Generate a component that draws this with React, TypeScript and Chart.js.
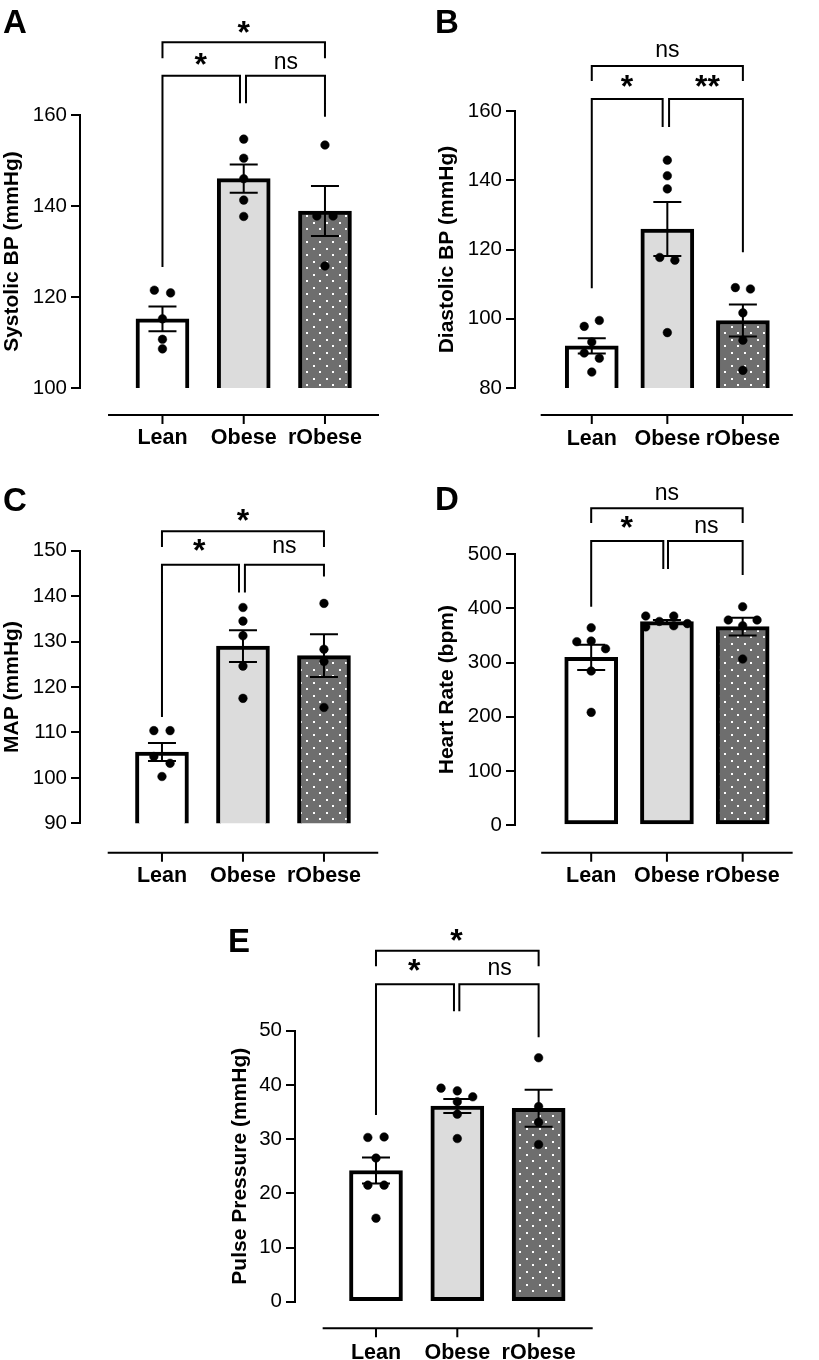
import React, { useEffect, useRef } from "react";
import { Chart, registerables } from "chart.js";
Chart.register(...registerables);

const FONT = "'Liberation Sans', Arial, Helvetica, sans-serif";

const groups = ["Lean", "Obese", "rObese"];

// ---- Panel A: Systolic BP ----
const sbpMean = [115.2, 146.0, 138.9];
const sbpSem = [2.7, 3.1, 5.5];
const sbpLean = [121.5, 120.9, 115.2, 110.7, 108.6];
const sbpObese = [154.7, 150.5, 146.0, 141.3, 137.7];
const sbpRObese = [153.4, 137.8, 137.8, 126.8];
const sbpSpread = [[-0.1, 0.1, 0, 0, 0], [0, 0, 0, 0, 0], [0, -0.1, 0.1, 0]];
const sbpBrackets = [[0, 2, 176.0, 172.5, 172.5], [0, 0.954, 168.6, 126.6, 162.6], [1.028, 2, 168.6, 162.6, 159.6]];
const sbpSig: [string, number, number][] = [["*", 1.0, 179.4], ["*", 0.47, 172.3], ["ns", 1.52, 171.5]];

// ---- Panel B: Diastolic BP ----
const dbpMean = [92.2, 125.9, 99.5];
const dbpSem = [2.2, 7.8, 4.6];
const dbpLean = [97.8, 99.5, 93.3, 90.1, 88.6, 84.6];
const dbpObese = [145.8, 141.3, 137.5, 117.7, 116.9, 96.0];
const dbpRObese = [109.0, 108.6, 101.7, 93.8, 85.1];
const dbpSpread = [[-0.1, 0.1, 0, -0.1, 0.1, 0], [0, 0, 0, -0.1, 0.1, 0], [-0.1, 0.1, 0, 0, 0]];
const dbpBrackets = [[0, 2, 173.0, 168.7, 168.7], [0, 0.938, 163.5, 108.8, 155.4], [1.023, 2, 163.5, 155.4, 119.2]];
const dbpSig: [string, number, number][] = [["ns", 1.0, 177.4], ["*", 0.465, 168.7], ["**", 1.53, 168.7]];

// ---- Panel C: MAP ----
const mapMean = [105.7, 129.0, 126.9];
const mapSem = [2.0, 3.5, 4.7];
const mapLean = [110.4, 110.4, 104.7, 103.2, 100.3];
const mapObese = [137.5, 134.5, 131.3, 124.6, 117.5];
const mapRObese = [138.4, 128.3, 125.6, 115.5];
const mapSpread = [[-0.1, 0.1, -0.1, 0.1, 0], [0, 0, 0, 0, 0], [0, 0, 0, 0]];
const mapBrackets = [[0, 2, 154.3, 150.8, 150.8], [0, 0.951, 146.9, 113.4, 140.8], [1.024, 2, 146.9, 140.8, 144.3]];
const mapSig: [string, number, number][] = [["*", 1.0, 157.9], ["*", 0.46, 151.3], ["ns", 1.51, 151.0]];

// ---- Panel D: Heart rate ----
const hrMean = [309.5, 375.6, 366.5];
const hrSem = [23.3, 3.0, 16.4];
const hrLean = [364.4, 338.6, 339.8, 325.6, 284.4, 208.1];
const hrObese = [386, 366, 376, 386, 368, 372];
const hrRObese = [403.2, 378.6, 378.6, 368.1, 306.6];
const hrSpread = [[0, -0.19, 0, 0.19, 0, 0], [-0.28, -0.28, -0.1, 0.09, 0.09, 0.27], [0, -0.19, 0.19, 0, 0]];
const hrBrackets = [[0, 2, 585.0, 557.8, 557.8], [0, 0.952, 524.6, 403.2, 472.8], [1.014, 2, 524.6, 472.8, 461.8]];
const hrSig: [string, number, number][] = [["ns", 1.0, 612.7], ["*", 0.47, 559.7], ["ns", 1.52, 551.0]];

// ---- Panel E: Pulse pressure ----
const ppMean = [24.2, 36.1, 35.7];
const ppSem = [2.4, 1.3, 3.4];
const ppLean = [30.3, 30.4, 26.5, 21.5, 21.5, 15.4];
const ppObese = [39.4, 38.9, 37.8, 36.9, 34.6, 30.1];
const ppRObese = [45.0, 36.0, 33.1, 29.0];
const ppSpread = [[-0.1, 0.1, 0, -0.1, 0.1, 0], [-0.2, 0, 0.19, 0, 0, 0], [0, 0, 0, 0]];
const ppBrackets = [[0, 2, 64.76, 61.9, 61.9], [0, 0.959, 58.56, 34.45, 53.6], [1.025, 2, 58.56, 53.6, 48.8]];
const ppSig: [string, number, number][] = [["*", 0.99, 67.66], ["*", 0.47, 62.1], ["ns", 1.52, 61.4]];

type Box = {
  left: number; top: number; w: number; h: number; yw: number; areaTop: number; xh: number;
  padRight: number; xmin: number; xmax: number; titlePad: number; labelPad: number;
  lineOffset: number; lineStart: number; letterX: number; letterY: number;
};
type Panel = {
  letter: string; title: string; min: number; max: number; step: number;
  mean: number[]; sem: number[]; points: number[][]; spread: number[][];
  brackets: number[][]; sig: [string, number, number][]; box: Box;
};

const panels: Panel[] = [
  {
    letter: "A", title: "Systolic BP (mmHg)", min: 100, max: 160, step: 20,
    mean: sbpMean, sem: sbpSem, points: [sbpLean, sbpObese, sbpRObese], spread: sbpSpread,
    brackets: sbpBrackets, sig: sbpSig,
    box: { left: 0, top: 0, w: 405, h: 460, yw: 80, areaTop: 115, xh: 72, padRight: 26, xmin: -1.015, xmax: 2.665, titlePad: 0, labelPad: 37.2, lineOffset: 27, lineStart: -0.67, letterX: 3, letterY: 33 },
  },
  {
    letter: "B", title: "Diastolic BP (mmHg)", min: 80, max: 160, step: 20,
    mean: dbpMean, sem: dbpSem, points: [dbpLean, dbpObese, dbpRObese], spread: dbpSpread,
    brackets: dbpBrackets, sig: dbpSig,
    box: { left: 405, top: 0, w: 414, h: 460, yw: 110, areaTop: 111, xh: 72, padRight: 1, xmin: -1.016, xmax: 2.661, titlePad: 29.4, labelPad: 38.2, lineOffset: 27, lineStart: -0.676, letterX: 30, letterY: 33 },
  },
  {
    letter: "C", title: "MAP (mmHg)", min: 90, max: 150, step: 10,
    mean: mapMean, sem: mapSem, points: [mapLean, mapObese, mapRObese], spread: mapSpread,
    brackets: mapBrackets, sig: mapSig,
    box: { left: 0, top: 460, w: 405, h: 430, yw: 80, areaTop: 90.7, xh: 66.7, padRight: 23, xmin: -1.012, xmax: 2.67, titlePad: 0, labelPad: 39.8, lineOffset: 29.4, lineStart: -0.67, letterX: 3, letterY: 51 },
  },
  {
    letter: "D", title: "Heart Rate (bpm)", min: 0, max: 500, step: 100,
    mean: hrMean, sem: hrSem, points: [hrLean, hrObese, hrRObese], spread: hrSpread,
    brackets: hrBrackets, sig: hrSig,
    box: { left: 405, top: 460, w: 414, h: 430, yw: 110, areaTop: 94.3, xh: 65, padRight: 6, xmin: -1.006, xmax: 2.66, titlePad: 29.4, labelPad: 38.2, lineOffset: 27.7, lineStart: -0.66, letterX: 30, letterY: 50 },
  },
  {
    letter: "E", title: "Pulse Pressure (mmHg)", min: 0, max: 50, step: 10,
    mean: ppMean, sem: ppSem, points: [ppLean, ppObese, ppRObese], spread: ppSpread,
    brackets: ppBrackets, sig: ppSig,
    box: { left: 200, top: 880, w: 419, h: 480, yw: 95, areaTop: 150.7, xh: 58.3, padRight: 26.3, xmin: -0.996, xmax: 2.665, titlePad: 27.4, labelPad: 38.5, lineOffset: 26.6, lineStart: -0.656, letterX: 28, letterY: 71.7 },
  },
];

function dotPattern(): CanvasPattern | string {
  const c = document.createElement("canvas");
  c.width = 13;
  c.height = 13;
  const g = c.getContext("2d");
  if (!g) return "#6e6e6e";
  g.fillStyle = "#6e6e6e";
  g.fillRect(0, 0, 13, 13);
  g.fillStyle = "#ffffff";
  g.fillRect(1, 1, 2, 2);
  g.fillRect(7, 7, 2, 2);
  return g.createPattern(c, "repeat") || "#6e6e6e";
}

function makePlugin(p: Panel) {
  return {
    id: "fig" + p.letter,
    afterDatasetsDraw(chart: any) {
      const ctx = chart.ctx;
      const xs = chart.scales.x;
      const ys = chart.scales.y;
      ctx.save();
      ctx.strokeStyle = "#000";
      ctx.lineWidth = 2;
      p.mean.forEach((m, i) => {
        const cx = xs.getPixelForValue(i);
        const yt = ys.getPixelForValue(m + p.sem[i]);
        const yb = ys.getPixelForValue(m - p.sem[i]);
        ctx.beginPath();
        ctx.moveTo(cx, yt);
        ctx.lineTo(cx, yb);
        ctx.moveTo(cx - 14, yt);
        ctx.lineTo(cx + 14, yt);
        ctx.moveTo(cx - 14, yb);
        ctx.lineTo(cx + 14, yb);
        ctx.stroke();
      });
      ctx.restore();
    },
    afterDraw(chart: any) {
      const ctx = chart.ctx;
      const xs = chart.scales.x;
      const ys = chart.scales.y;
      const area = chart.chartArea;
      ctx.save();
      ctx.strokeStyle = "#000";
      ctx.fillStyle = "#000";
      ctx.lineWidth = 2;
      ctx.lineJoin = "miter";
      // separate category axis line
      const ly = area.bottom + p.box.lineOffset;
      ctx.beginPath();
      ctx.moveTo(xs.getPixelForValue(p.box.lineStart), ly);
      ctx.lineTo(area.right, ly);
      groups.forEach((_, i) => {
        const px = xs.getPixelForValue(i);
        ctx.moveTo(px, ly);
        ctx.lineTo(px, ly + 9);
      });
      ctx.stroke();
      // significance brackets
      p.brackets.forEach(([x0, x1, yb, l0, l1]) => {
        const X0 = xs.getPixelForValue(x0);
        const X1 = xs.getPixelForValue(x1);
        const Y = ys.getPixelForValue(yb);
        ctx.beginPath();
        ctx.moveTo(X0, ys.getPixelForValue(l0));
        ctx.lineTo(X0, Y);
        ctx.lineTo(X1, Y);
        ctx.lineTo(X1, ys.getPixelForValue(l1));
        ctx.stroke();
      });
      p.sig.forEach(([t, xv, yv]) => {
        ctx.font = t.indexOf("*") >= 0 ? `bold 32px ${FONT}` : `23px ${FONT}`;
        ctx.textAlign = "center";
        ctx.textBaseline = "alphabetic";
        const m = ctx.measureText(t);
        const yc = ys.getPixelForValue(yv);
        const yb = yc + (m.actualBoundingBoxAscent - m.actualBoundingBoxDescent) / 2;
        ctx.fillText(t, xs.getPixelForValue(xv), yb);
      });
      // panel letter
      ctx.font = `bold 33px ${FONT}`;
      ctx.textAlign = "left";
      ctx.textBaseline = "alphabetic";
      ctx.fillText(p.letter, p.box.letterX, p.box.letterY);
      ctx.restore();
    },
  };
}

function PanelChart({ p }: { p: Panel }) {
  const ref = useRef<HTMLCanvasElement>(null);
  useEffect(() => {
    const canvas = ref.current;
    if (!canvas) return;
    const fills: any[] = ["#ffffff", "#dcdcdc", dotPattern()];
    const pts: { x: number; y: number }[] = [];
    p.points.forEach((vals, gi) =>
      vals.forEach((v, k) => pts.push({ x: gi + p.spread[gi][k], y: v }))
    );
    const b = p.box;
    const tickFont = { family: FONT, size: 20.5 };
    const chart = new Chart(canvas, {
      type: "bar",
      data: {
        datasets: [
          {
            type: "bar",
            data: p.mean.map((m, i) => ({ x: i, y: m })),
            backgroundColor: fills,
            borderColor: "#000",
            borderWidth: 4,
            borderSkipped: false,
            barThickness: 53,
            order: 2,
          } as any,
          {
            type: "scatter",
            data: pts,
            pointRadius: 4.3,
            pointBackgroundColor: "#000",
            pointBorderColor: "#000",
            pointBorderWidth: 0.5,
            showLine: false,
            order: 1,
          } as any,
        ],
      },
      options: {
        animation: false,
        responsive: false,
        events: [],
        layout: { padding: { top: b.areaTop, right: b.padRight, bottom: 0, left: 0 } },
        plugins: { legend: { display: false }, tooltip: { enabled: false }, title: { display: false } },
        scales: {
          x: {
            type: "linear",
            min: b.xmin,
            max: b.xmax,
            offset: false,
            grid: { display: false, drawTicks: false, offset: false },
            border: { display: false },
            afterBuildTicks: (s: any) => {
              s.ticks = groups.map((_, i) => ({ value: i }));
            },
            afterFit: (s: any) => {
              s.height = b.xh;
            },
            ticks: {
              callback: (v: any) => groups[Math.round(Number(v))],
              font: { family: FONT, size: 21.5, weight: "bold" },
              color: "#000",
              padding: b.labelPad,
              autoSkip: false,
              maxRotation: 0,
            },
          } as any,
          y: {
            type: "linear",
            min: p.min,
            max: p.max,
            beginAtZero: false,
            ticks: { stepSize: p.step, font: tickFont, color: "#000", padding: 4 },
            grid: { drawOnChartArea: false, drawTicks: true, tickLength: 9, color: "#000", lineWidth: 2 },
            border: { display: true, color: "#000", width: 2 },
            title: {
              display: true,
              text: p.title,
              color: "#000",
              font: { family: FONT, size: 21, weight: "bold" },
              padding: { top: b.titlePad, bottom: 0 },
            },
            afterFit: (s: any) => {
              s.width = b.yw;
            },
          } as any,
        },
      } as any,
      plugins: [makePlugin(p)],
    });
    return () => chart.destroy();
  }, [p]);
  return (
    <canvas
      ref={ref}
      width={p.box.w}
      height={p.box.h}
      style={{ position: "absolute", left: p.box.left, top: p.box.top, width: p.box.w, height: p.box.h }}
    />
  );
}

export default function App() {
  return (
    <div style={{ position: "absolute", left: 0, top: 0, width: 819, height: 1360, background: "#fff", overflow: "hidden" }}>
      {panels.map((p) => (
        <PanelChart key={p.letter} p={p} />
      ))}
    </div>
  );
}
